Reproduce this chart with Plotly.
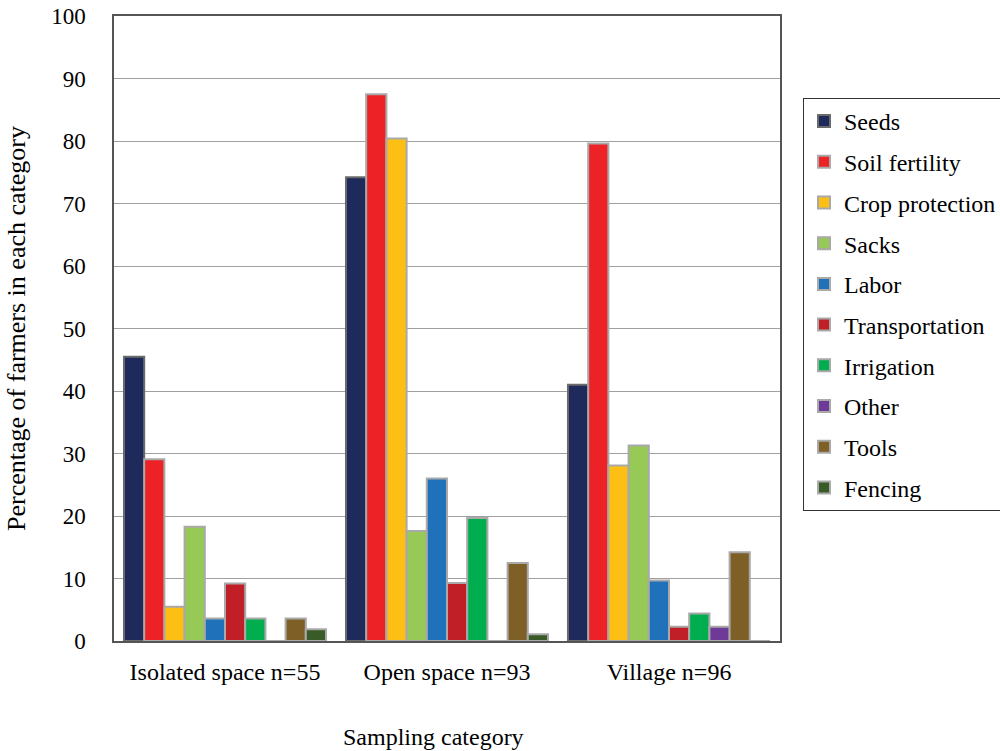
import plotly.graph_objects as go

# Sampling categories (x axis)
categories = ["Isolated space n=55", "Open space n=93", "Village n=96"]

# Percentage of farmers citing each constraint, per sampling category
seeds = [45.5, 74.2, 41.0]
soil_fertility = [29.1, 87.5, 79.6]
crop_protection = [5.5, 80.4, 28.1]
sacks = [18.3, 17.6, 31.3]
labor = [3.6, 26.0, 9.7]
transportation = [9.2, 9.3, 2.3]
irrigation = [3.6, 19.7, 4.4]
other = [0, 0, 2.3]
tools = [3.6, 12.5, 14.2]
fencing = [1.9, 1.1, 0]

series = [
    ("Seeds", seeds, "#1f2a5c", "#6b6b6b"),
    ("Soil fertility", soil_fertility, "#ec2227", "#a9a9a9"),
    ("Crop protection", crop_protection, "#fdbf14", "#a9a9a9"),
    ("Sacks", sacks, "#97c957", "#a9a9a9"),
    ("Labor", labor, "#1f71ba", "#a9a9a9"),
    ("Transportation", transportation, "#c11f27", "#a9a9a9"),
    ("Irrigation", irrigation, "#00ad4f", "#a9a9a9"),
    ("Other", other, "#6f3a97", "#a9a9a9"),
    ("Tools", tools, "#7e6027", "#a9a9a9"),
    ("Fencing", fencing, "#385b27", "#a9a9a9"),
]

serif = "Liberation Serif"

fig = go.Figure()
for name, vals, color, edge in series:
    fig.add_trace(go.Bar(
        name=name, x=categories, y=vals, legendgroup=name,
        marker=dict(color=color, line=dict(color=edge, width=2)),
    ))

fig.update_layout(
    width=1000, height=751,
    margin=dict(l=114, r=220, t=16, b=110, autoexpand=False),
    paper_bgcolor="white", plot_bgcolor="white",
    barmode="group", bargap=0.09, bargroupgap=0,
    font=dict(family=serif, size=23, color="black"),
    showlegend=True,
    legend=dict(
        xref="container", yref="container",
        x=0.803, xanchor="left", y=0.8695, yanchor="top",
        bordercolor="#333333", borderwidth=1,
        font=dict(family=serif, size=24, color="black"),
        tracegroupgap=6.5, traceorder="grouped",
        itemwidth=30, maxheight=600,
    ),
    xaxis=dict(
        showline=True, linecolor="#555555", linewidth=1.5, mirror=True,
        ticks="", tickfont=dict(size=24), ticklabelstandoff=8,
    ),
    yaxis=dict(
        range=[0, 100], dtick=10,
        showline=True, linecolor="#555555", linewidth=1.5, mirror=True,
        ticks="", ticklabelstandoff=22,
        showgrid=True, gridcolor="#a0a0a0", gridwidth=1,
        tickfont=dict(size=23),
        title=dict(text="Percentage of farmers in each category", font=dict(size=26), standoff=18),
    ),
    annotations=[dict(
        text="Sampling category", xref="paper", yref="paper",
        x=0.48, y=-0.1536, xanchor="center", yanchor="middle",
        showarrow=False, font=dict(family=serif, size=24, color="black"),
    )],
)

fig.write_html("out.html")
